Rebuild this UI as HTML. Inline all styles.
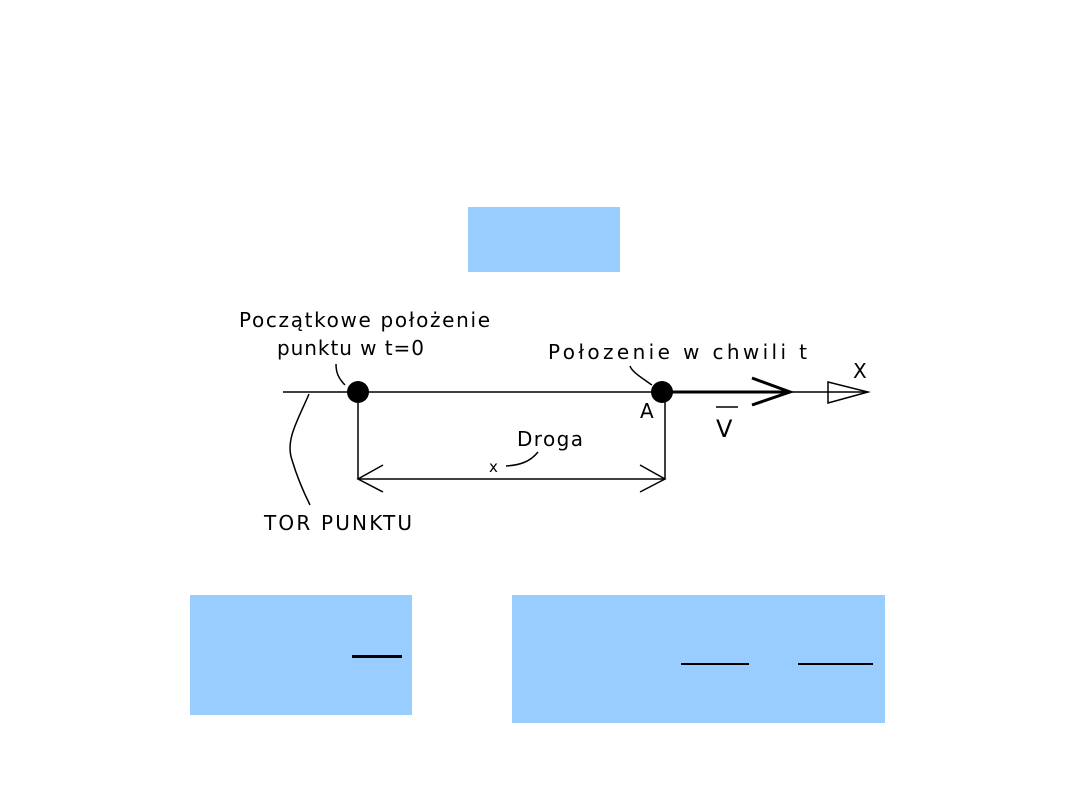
<!DOCTYPE html>
<html><head><meta charset="utf-8"><style>
body{margin:0;background:#fff;width:1080px;height:810px;overflow:hidden;position:relative}
.b{position:absolute;background:#99ccff}
svg{position:absolute;left:0;top:0}
text{font-family:"DejaVu Sans","Liberation Sans",sans-serif;font-size:20px;fill:#000}
</style></head><body>
<div class="b" style="left:468px;top:207px;width:152px;height:65px"></div>
<div class="b" style="left:190px;top:595px;width:222px;height:120px"></div>
<div class="b" style="left:512px;top:595px;width:373px;height:128px"></div>
<svg width="1080" height="810">
<g stroke="#000" fill="none" stroke-width="1.5">
<line x1="283" y1="392" x2="868" y2="392"/>
<line x1="358" y1="392" x2="358" y2="479"/>
<line x1="665" y1="392" x2="665" y2="479"/>
<line x1="358" y1="479" x2="665" y2="479"/>
<polyline points="383,465 358,479 383,492"/>
<polyline points="640,465 665,479 640,492"/>
<polygon points="828,382 868,392 828,403"/>
<path d="M309,394 C298,420 285,440 292,460 C298,480 305,495 310,505"/>
<path d="M345,385 C338,378 336,372 336,364"/>
<path d="M652,385 C642,378 632,372 630,366"/>
<path d="M506,466 C520,465 530,462 538,452"/>
<line x1="716" y1="407" x2="738" y2="407"/>
</g>
<line x1="662" y1="392" x2="790" y2="392" stroke="#000" stroke-width="3"/>
<polyline points="752,378 790,392 752,405" stroke="#000" stroke-width="3" fill="none"/>
<circle cx="358" cy="392" r="11"/>
<circle cx="662" cy="392" r="11"/>
<text x="239" y="327" textLength="251" lengthAdjust="spacing">Początkowe  położenie</text>
<text x="277" y="355" textLength="147" lengthAdjust="spacing">punktu  w  t=0</text>
<text x="548" y="359" textLength="259" lengthAdjust="spacing">Połozenie  w  chwili  t</text>
<text x="853" y="378">X</text>
<text x="640" y="418">A</text>
<text x="716" y="437" style="font-size:24px">V</text>
<text x="517" y="446" textLength="66" lengthAdjust="spacing">Droga</text>
<text x="489" y="472" style="font-size:15px">x</text>
<text x="264" y="530" textLength="148" lengthAdjust="spacing">TOR  PUNKTU</text>
</svg>
<div style="position:absolute;left:352px;top:655px;width:50px;height:3px;background:#000"></div>
<div style="position:absolute;left:681px;top:663px;width:68px;height:2px;background:#000"></div>
<div style="position:absolute;left:798px;top:663px;width:75px;height:2px;background:#000"></div>
</body></html>
